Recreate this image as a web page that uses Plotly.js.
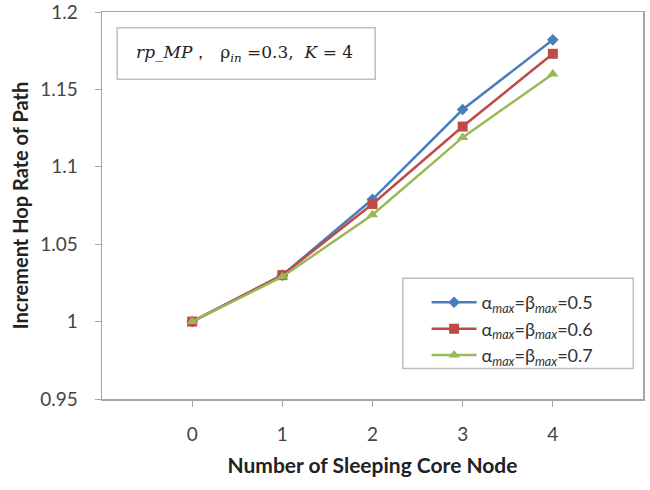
<!DOCTYPE html>
<html>
<head>
<meta charset="utf-8">
<script src="https://cdn.plot.ly/plotly-3.0.1.min.js"></script>
<style>html,body{margin:0;padding:0;background:#fff;}#chart{width:650px;height:490px;}</style>
</head>
<body>
<div id="chart"></div>
<script>
const xValues = [0, 1, 2, 3, 4];
const series05 = [1.000, 1.030, 1.079, 1.137, 1.182];
const series06 = [1.000, 1.030, 1.076, 1.126, 1.173];
const series07 = [1.000, 1.029, 1.069, 1.119, 1.160];
const seriesNames = [
  "α<sub><i>max</i></sub>=β<sub><i>max</i></sub>=0.5",
  "α<sub><i>max</i></sub>=β<sub><i>max</i></sub>=0.6",
  "α<sub><i>max</i></sub>=β<sub><i>max</i></sub>=0.7"
];
const yTicks = [0.95, 1, 1.05, 1.1, 1.15, 1.2];
const yTickText = ["0.95", "1", "1.05", "1.1", "1.15", "1.2"];
const xTicks = [0, 1, 2, 3, 4];

const colors = ["#4A7EBB", "#BE4B48", "#98B954"];
const symbols = ["diamond", "square", "triangle-up"];
const sizes = [9, 10, 10];
const allSeries = [series05, series06, series07];

const traces = allSeries.map((ys, i) => ({
  x: xValues, y: ys, type: "scatter", mode: "lines+markers",
  name: seriesNames[i],
  line: {color: colors[i], width: 2.5},
  marker: {symbol: symbols[i], size: sizes[i], color: colors[i]}
}));

const layout = {
  width: 650, height: 490,
  margin: {l: 102, r: 7, t: 12, b: 91},
  paper_bgcolor: "#fff", plot_bgcolor: "#fff",
  font: {family: "Lato, 'Open Sans', sans-serif", color: "#595959", size: 14},
  showlegend: true,
  legend: {
    x: 0.6, y: 0.297, xanchor: "left", yanchor: "top",
    bgcolor: "rgba(0,0,0,0)", borderwidth: 0,
    font: {family: "Lato, sans-serif", size: 18, color: "#333"},
    tracegroupgap: 0, itemwidth: 45
  },
  xaxis: {
    range: [-1, 5], tickvals: xTicks, ticktext: xTicks.map(String),
    showgrid: false, zeroline: false,
    showline: true, linecolor: "#a6a6a6", linewidth: 1.5, mirror: true,
    ticks: "outside", ticklen: 6, tickcolor: "#a6a6a6",
    tickfont: {size: 19, color: "#444"}, ticklabelstandoff: 12,
    title: {text: "<b>Number of Sleeping Core Node</b>", font: {size: 21, color: "#222"}, standoff: 14}
  },
  yaxis: {
    range: [0.95, 1.2], tickvals: yTicks, ticktext: yTickText,
    showgrid: false, zeroline: false,
    showline: true, linecolor: "#a6a6a6", linewidth: 1.5, mirror: true,
    ticks: "outside", ticklen: 6, tickcolor: "#a6a6a6",
    tickfont: {size: 19, color: "#444"}, ticklabelstandoff: 13,
    ticklabeloverflow: "allow",
    title: {text: "<b>Increment Hop Rate of Path</b>", font: {size: 20, color: "#222"}, standoff: 6}
  },
  shapes: [
    {type: "rect", xref: "paper", yref: "paper", x0: 0.028, x1: 0.505, y0: 0.826, y1: 0.959,
     line: {color: "#bfbfbf", width: 1.5}, fillcolor: "#fff"},
    {type: "rect", xref: "paper", yref: "paper", x0: 0.556, x1: 0.982, y0: 0.079, y1: 0.312,
     line: {color: "#bfbfbf", width: 1.5}, fillcolor: "rgba(0,0,0,0)", layer: "below"}
  ],
  annotations: [
    {xref: "paper", yref: "paper", x: 0.06, y: 0.892, xanchor: "left", yanchor: "middle",
     showarrow: false,
     text: "<i>rp_MP</i>，  ρ<sub><i>in</i></sub> =0.3,  <i>K</i> = 4",
     font: {family: "'DejaVu Serif', 'Liberation Serif', serif", size: 17, color: "#222"}}
  ]
};

Plotly.newPlot("chart", traces, layout, {displayModeBar: false, staticPlot: true});
</script>
</body>
</html>
